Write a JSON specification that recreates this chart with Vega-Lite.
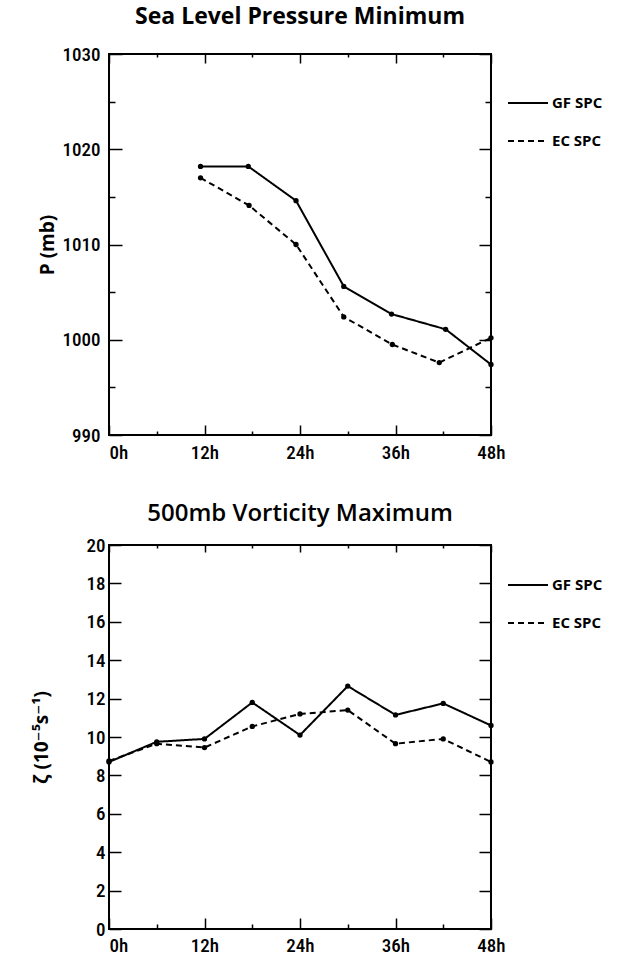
{
  "$schema": "https://vega.github.io/schema/vega-lite/v6.json",
  "background": "white",
  "padding": {"left": 31, "top": 5, "right": 5, "bottom": 5},
  "spacing": 38,
  "resolve": {"legend": {"strokeDash": "independent"}},
  "datasets": {
    "slp": [
      {"hour": 11.5, "value": 1018.2, "model": "GF SPC"},
      {"hour": 17.5, "value": 1018.2, "model": "GF SPC"},
      {"hour": 23.5, "value": 1014.6, "model": "GF SPC"},
      {"hour": 29.5, "value": 1005.6, "model": "GF SPC"},
      {"hour": 35.5, "value": 1002.7, "model": "GF SPC"},
      {"hour": 42.3, "value": 1001.1, "model": "GF SPC"},
      {"hour": 48, "value": 997.4, "model": "GF SPC"},
      {"hour": 11.5, "value": 1017.0, "model": "EC SPC"},
      {"hour": 17.6, "value": 1014.1, "model": "EC SPC"},
      {"hour": 23.5, "value": 1010.0, "model": "EC SPC"},
      {"hour": 29.5, "value": 1002.4, "model": "EC SPC"},
      {"hour": 35.6, "value": 999.5, "model": "EC SPC"},
      {"hour": 41.5, "value": 997.6, "model": "EC SPC"},
      {"hour": 48, "value": 1000.2, "model": "EC SPC"}
    ],
    "vort": [
      {"hour": 0, "value": 8.7, "model": "GF SPC"},
      {"hour": 6, "value": 9.75, "model": "GF SPC"},
      {"hour": 12, "value": 9.9, "model": "GF SPC"},
      {"hour": 18, "value": 11.8, "model": "GF SPC"},
      {"hour": 24, "value": 10.1, "model": "GF SPC"},
      {"hour": 30, "value": 12.65, "model": "GF SPC"},
      {"hour": 36, "value": 11.15, "model": "GF SPC"},
      {"hour": 42, "value": 11.75, "model": "GF SPC"},
      {"hour": 48, "value": 10.6, "model": "GF SPC"},
      {"hour": 0, "value": 8.75, "model": "EC SPC"},
      {"hour": 6, "value": 9.65, "model": "EC SPC"},
      {"hour": 12, "value": 9.45, "model": "EC SPC"},
      {"hour": 18, "value": 10.55, "model": "EC SPC"},
      {"hour": 24, "value": 11.2, "model": "EC SPC"},
      {"hour": 30, "value": 11.4, "model": "EC SPC"},
      {"hour": 36, "value": 9.65, "model": "EC SPC"},
      {"hour": 42, "value": 9.9, "model": "EC SPC"},
      {"hour": 48, "value": 8.7, "model": "EC SPC"}
    ]
  },
  "config": {
    "view": {"stroke": "black", "strokeWidth": 2},
    "axis": {
      "domain": false,
      "grid": false,
      "tickColor": "black",
      "tickWidth": 1.5,
      "labelFont": "Liberation Sans Narrow, Roboto Condensed, Roboto, sans-serif",
      "labelFontSize": 19,
      "labelFontWeight": 500,
      "labelColor": "black",
      "titleFont": "Open Sans, DejaVu Sans, sans-serif",
      "titleFontSize": 19,
      "titleFontWeight": "bold",
      "titleColor": "black"
    },
    "title": {
      "font": "Open Sans, DejaVu Sans, sans-serif",
      "fontSize": 23,
      "fontWeight": "bold",
      "color": "black"
    },
    "legend": {
      "labelFont": "Open Sans, DejaVu Sans, sans-serif",
      "labelFontSize": 15,
      "labelFontWeight": "bold",
      "labelColor": "black"
    }
  },
  "vconcat": [
    {
      "title": {"text": "Sea Level Pressure Minimum", "offset": 16},
      "width": 382,
      "height": 381,
      "data": {"name": "slp"},
      "layer": [
        {
          "mark": {"type": "line", "color": "black", "strokeWidth": 2},
          "encoding": {
            "x": {
              "field": "hour", "type": "quantitative",
              "scale": {"domain": [0, 48], "nice": false},
              "axis": {
                "orient": "bottom", "title": null,
                "values": [0, 6, 12, 18, 24, 30, 36, 42, 48],
                "labelExpr": "datum.value % 12 == 0 ? datum.value + 'h' : ''",
                "tickSize": {"condition": {"test": "datum.value % 12 == 0", "value": -10}, "value": -4},
                "labelPadding": 18,
                "labelAlign": {"condition": {"test": "datum.value == 0", "value": "left"}, "value": "center"},
                "labelFlush": false
              }
            },
            "y": {
              "field": "value", "type": "quantitative",
              "scale": {"domain": [990, 1030], "nice": false, "zero": false},
              "axis": {
                "orient": "left", "title": "P  (mb)",
                "values": [990, 995, 1000, 1005, 1010, 1015, 1020, 1025, 1030],
                "labelExpr": "datum.value % 10 == 0 ? datum.value : ''",
                "tickSize": {"condition": {"test": "datum.value % 10 == 0", "value": -13}, "value": -6},
                "labelPadding": 22,
                "titlePadding": 5
              }
            },
            "strokeDash": {
              "field": "model", "type": "nominal",
              "scale": {"domain": ["GF SPC", "EC SPC"], "range": [[1, 0], [6, 4]]},
              "legend": {
                "title": null, "orient": "none", "legendX": 398, "legendY": 28,
                "symbolType": "stroke", "symbolSize": 1600, "symbolStrokeWidth": 2,
                "symbolStrokeColor": "black", "rowPadding": 9, "labelOffset": 3
              }
            }
          }
        },
        {
          "mark": {"type": "point", "filled": true, "color": "black", "size": 28, "opacity": 1},
          "encoding": {
            "x": {
              "field": "hour", "type": "quantitative",
              "axis": {
                "orient": "top", "title": null, "labels": false,
                "values": [0, 6, 12, 18, 24, 30, 36, 42, 48],
                "tickSize": {"condition": {"test": "datum.value % 12 == 0", "value": -9}, "value": -3}
              }
            },
            "y": {
              "field": "value", "type": "quantitative",
              "axis": {
                "orient": "right", "title": null, "labels": false,
                "values": [990, 995, 1000, 1005, 1010, 1015, 1020, 1025, 1030],
                "tickSize": {"condition": {"test": "datum.value % 10 == 0", "value": -12}, "value": -6}
              }
            }
          }
        }
      ],
      "resolve": {"axis": {"x": "independent", "y": "independent"}}
    },
    {
      "title": {"text": "500mb  Vorticity  Maximum", "offset": 10, "fontSize": 24, "fontWeight": 600},
      "width": 382,
      "height": 384,
      "data": {"name": "vort"},
      "layer": [
        {
          "mark": {"type": "line", "color": "black", "strokeWidth": 2},
          "encoding": {
            "x": {
              "field": "hour", "type": "quantitative",
              "scale": {"domain": [0, 48], "nice": false},
              "axis": {
                "orient": "bottom", "title": null,
                "values": [0, 6, 12, 18, 24, 30, 36, 42, 48],
                "labelExpr": "datum.value % 12 == 0 ? datum.value + 'h' : ''",
                "tickSize": {"condition": {"test": "datum.value % 12 == 0", "value": -11}, "value": -5},
                "labelPadding": 18,
                "labelAlign": {"condition": {"test": "datum.value == 0", "value": "left"}, "value": "center"},
                "labelFlush": false
              }
            },
            "y": {
              "field": "value", "type": "quantitative",
              "scale": {"domain": [0, 20], "nice": false, "zero": false},
              "axis": {
                "orient": "left", "title": "ζ (10⁻⁵s⁻¹)",
                "values": [0, 2, 4, 6, 8, 10, 12, 14, 16, 18, 20],
                "tickSize": -12,
                "labelPadding": 16,
                "titlePadding": 35
              }
            },
            "strokeDash": {
              "field": "model", "type": "nominal",
              "scale": {"domain": ["GF SPC", "EC SPC"], "range": [[1, 0], [6, 4]]},
              "legend": {
                "title": null, "orient": "none", "legendX": 398, "legendY": 19,
                "symbolType": "stroke", "symbolSize": 1600, "symbolStrokeWidth": 2,
                "symbolStrokeColor": "black", "rowPadding": 9, "labelOffset": 3
              }
            }
          }
        },
        {
          "mark": {"type": "point", "filled": true, "color": "black", "size": 28, "opacity": 1},
          "encoding": {
            "x": {
              "field": "hour", "type": "quantitative",
              "axis": {
                "orient": "top", "title": null, "labels": false,
                "values": [0, 6, 12, 18, 24, 30, 36, 42, 48],
                "tickSize": {"condition": {"test": "datum.value % 12 == 0", "value": -7}, "value": -3}
              }
            },
            "y": {
              "field": "value", "type": "quantitative",
              "axis": {
                "orient": "right", "title": null, "labels": false,
                "values": [0, 2, 4, 6, 8, 10, 12, 14, 16, 18, 20],
                "tickSize": -12
              }
            }
          }
        }
      ],
      "resolve": {"axis": {"x": "independent", "y": "independent"}}
    }
  ]
}
